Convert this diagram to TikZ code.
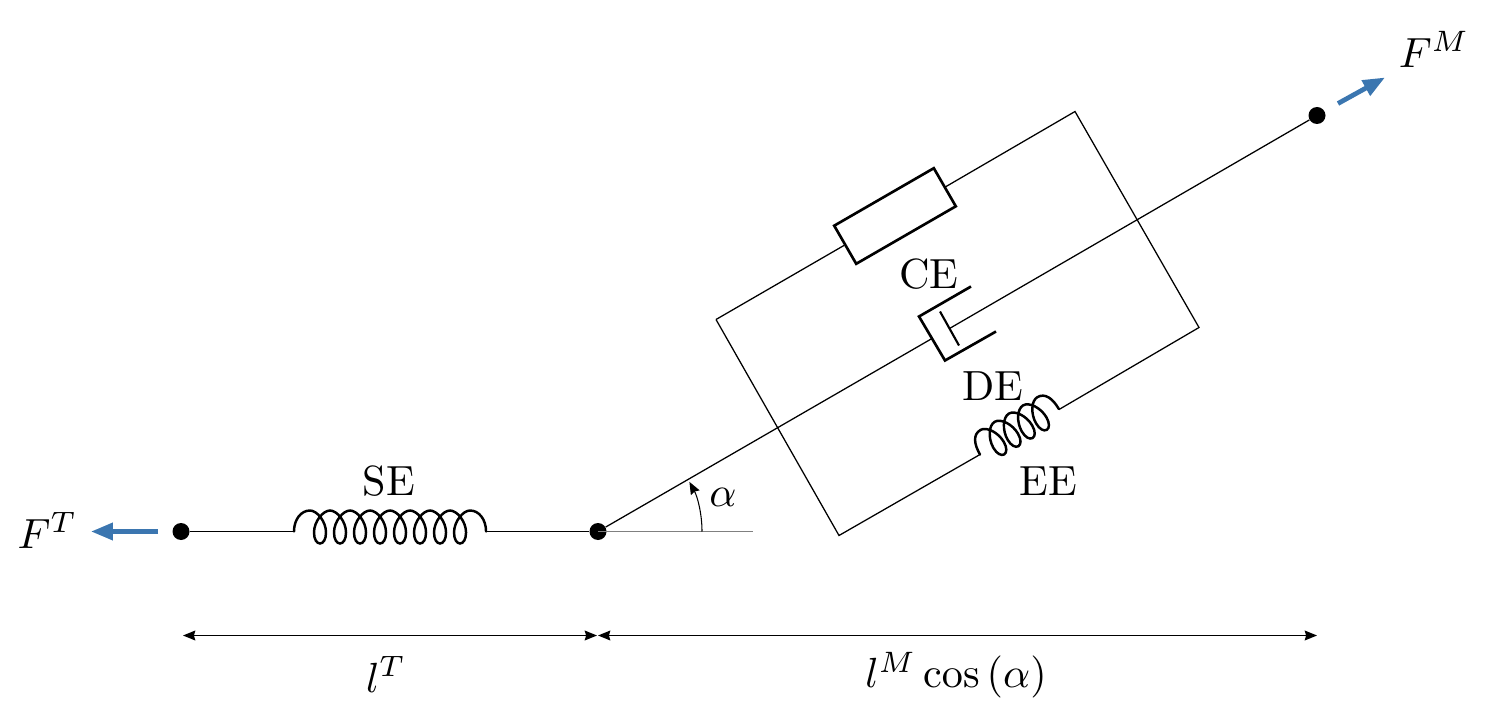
\documentclass[tikz,border=0pt]{standalone}
\usetikzlibrary{arrows.meta}
\definecolor{forceblue}{HTML}{3B76B0}
\tikzset{
  pics/coil/.style n args={3}{code={
    \pgfmathsetmacro{\coilstart}{(#3-(#1-1)*#2)/2}
    \pgfmathtruncatemacro{\coillast}{#1-1}
    \draw[x=0.02cm,y=0.02cm,line width=1.4pt,line cap=round]
      (0,0) .. controls (0,12) and (\coilstart-#2/2-9,21) .. (\coilstart-#2/2,21)
      \foreach \k [evaluate=\k as \c using \coilstart+\k*#2] in {0,...,\coillast}{
        .. controls (\c-#2/2+7,21) and (\c+6,10) .. (\c+6,-1)
        .. controls (\c+6,-8) and (\c+3.2,-12) .. (\c,-12)
        .. controls (\c-3.2,-12) and (\c-6,-8) .. (\c-6,-1)
        .. controls (\c-6,10) and (\c+#2/2-7,21) .. (\c+#2/2,21)
      }
      .. controls (#3-\coilstart+#2/2+9,21) and (#3,12) .. (#3,0);
  }},
  dot/.style={circle,fill=black,inner sep=0pt,minimum size=0.34cm},
  lbl/.style={scale=2.4,inner sep=0pt},
  thinline/.style={line width=0.72pt},
  element/.style={line width=1.5pt},
  force/.style={forceblue,line width=2.7pt,-{Triangle[length=12.5pt,width=9.5pt]}},
  dimline/.style={line width=0.72pt,{Stealth[length=7pt,width=5.6pt,inset=0.8pt]}-{Stealth[length=7pt,width=5.6pt,inset=0.8pt]}}
}
\begin{document}
\begin{tikzpicture}
\useasboundingbox (0,0.01) rectangle (29.88,14.29);
   \node[dot] (tendonEnd) at (3.62,3.66) {};
   \node[dot] (joint) at (11.96,3.66) {};
   \node[dot] (muscleEnd) at (26.34,11.98) {};

   \coordinate (seTail) at (5.88,3.66);
   \coordinate (seHead) at (9.72,3.66);
   \coordinate (frameTL) at (14.32,7.90);
   \coordinate (frameTR) at (21.50,12.06);
   \coordinate (frameBR) at (23.98,7.74);
   \coordinate (frameBL) at (16.78,3.58);
   \coordinate (eeTail) at (19.60,5.20);
   \coordinate (eeHead) at (21.18,6.10);
   \coordinate (plateA) at (18.38,7.96);
   \coordinate (plateB) at (18.90,7.08);
   \coordinate (plateMid) at (18.64,7.52);
   \coordinate (armA) at (19.42,8.56);
   \coordinate (armB) at (19.92,7.66);
   \coordinate (pistonA) at (18.80,8.06);
   \coordinate (pistonB) at (19.18,7.38);
   \coordinate (pistonMid) at (18.99,7.72);
   \coordinate (horizEnd) at (15.06,3.66);

\begin{scope}[thinline]
   \draw (tendonEnd) -- (seTail);
   \draw (seHead) -- (joint);
   \draw (joint) -- (plateMid);
   \draw (pistonMid) -- (muscleEnd);
   \node[draw,element,rotate=30,minimum width=2.3cm,minimum height=0.88cm,inner sep=0pt] (ceBox) at (17.90,9.97) {};
   \draw (frameTL) -- (ceBox.west);
   \draw (ceBox.east) -- (frameTR) -- (frameBR) -- (eeHead);
   \draw (eeTail) -- (frameBL) -- (frameTL);
\end{scope}

   \draw[gray,line width=0.72pt] (joint.center) -- (horizEnd);
   \draw[line width=0.6pt,-{Stealth[length=7pt,width=5.6pt,inset=0.8pt]}] (14.04,3.66) arc (0:28.5:2.08);

   \draw[element,line join=miter] (armA) -- (plateA) -- (plateB) -- (armB);
   \draw[line width=1.2pt] (pistonA) -- (pistonB);

   \path (seTail) pic {coil={8}{20}{192}};
   \path (eeTail) pic[rotate=30] {coil={4}{16.4}{91}};

   \coordinate (ftTail) at (3.16,3.66);
   \coordinate (ftTip) at (1.82,3.66);
   \coordinate (fmTail) at (26.76,12.22);
   \coordinate (fmTip) at (27.70,12.74);
   \draw[force] (ftTail) -- (ftTip);
   \draw[force] (fmTail) -- (fmTip);

   \coordinate (dimA) at (3.66,1.58);
   \coordinate (dimB) at (11.94,1.58);
   \coordinate (dimC) at (11.96,1.58);
   \coordinate (dimD) at (26.34,1.58);
   \draw[dimline] (dimA) -- (dimB);
   \draw[dimline] (dimC) -- (dimD);

   \node[lbl] (seLabel) at (7.78,4.66) {SE};
   \node[lbl] (ceLabel) at (18.58,8.80) {CE};
   \node[lbl] (deLabel) at (19.86,6.56) {DE};
   \node[lbl] (eeLabel) at (20.96,4.66) {EE};
   \node[lbl] (alphaLabel) at (14.46,4.34) {$\alpha$};
   \node[lbl] (ftLabel) at (0.95,3.68) {$F^T$};
   \node[lbl] (fmLabel) at (28.68,13.30) {$F^M$};
   \node[lbl] (ltLabel) at (7.72,0.80) {$l^T$};
   \node[lbl] (lmLabel) at (19.12,0.78) {$l^M\cos{(\alpha)}$};
\end{tikzpicture}
\end{document}
